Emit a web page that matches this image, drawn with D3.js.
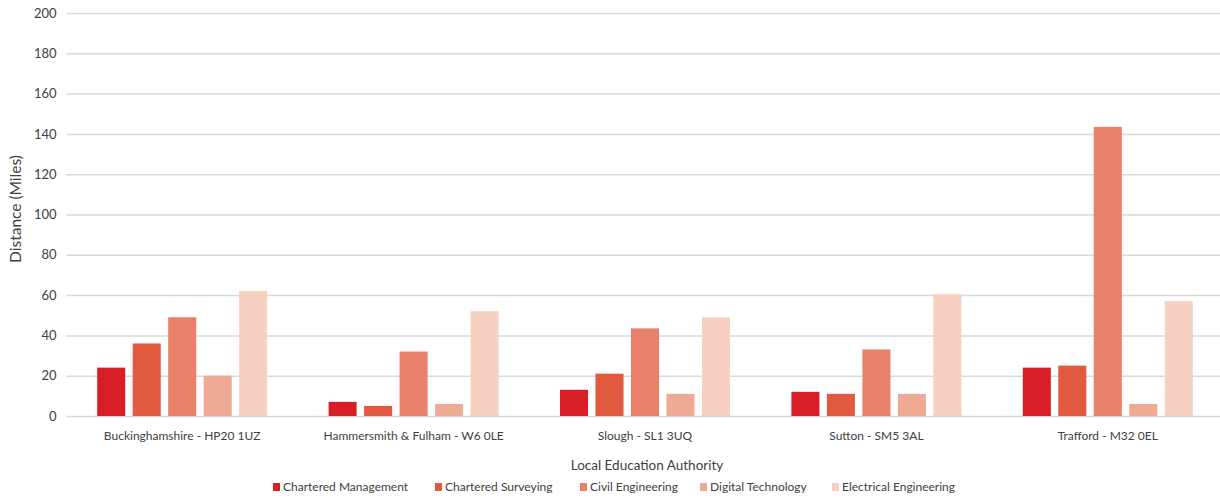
<!DOCTYPE html>
<html>
<head>
<meta charset="utf-8">
<script src="https://cdn.jsdelivr.net/npm/d3@7"></script>
<style>
    body { margin: 0; background: #fff; overflow: hidden; }
    text { font-family: Lato, "Open Sans", sans-serif; fill: #404040; }
</style>
</head>
<body>
<div id="chart"></div>
<script>
    var categories = ['Buckinghamshire - HP20 1UZ', 'Hammersmith & Fulham - W6 0LE', 'Slough - SL1 3UQ', 'Sutton - SM5 3AL', 'Trafford - M32 0EL'];
    var seriesNames = ['Chartered Management', 'Chartered Surveying', 'Civil Engineering', 'Digital Technology', 'Electrical Engineering'];
    var charteredManagement = [24, 7, 13, 12, 24];
    var charteredSurveying = [36, 5, 21, 11, 25];
    var civilEngineering = [49, 32, 43.5, 33, 143.5];
    var digitalTechnology = [20, 6, 11, 11, 6];
    var electricalEngineering = [62, 52, 49, 60.5, 57];
    var yTicks = [0, 20, 40, 60, 80, 100, 120, 140, 160, 180, 200];
    var colors = ['#d81f27', '#e15a40', '#e8806a', '#eeaa95', '#f6d0c0'];

    var seriesValues = [charteredManagement, charteredSurveying, civilEngineering, digitalTechnology, electricalEngineering];

    var width = 1220;
    var height = 498;
    var margin = {top: 13, left: 66.5, bottom: 82};
    var innerW = 1157; // category bands run slightly past the right edge
    var innerH = height - margin.top - margin.bottom;

    var svg = d3.select('#chart').append('svg')
        .attr('width', width)
        .attr('height', height)
        .append('g')
        .attr('transform', 'translate(' + margin.left + ',' + margin.top + ')');

    var x0 = d3.scaleBand().domain(categories).range([0, innerW]).padding(0);
    var groupPad = 30.7;
    var x1 = d3.scaleBand().domain(seriesNames)
        .range([groupPad, x0.bandwidth() - groupPad])
        .paddingInner(0.21);
    var y = d3.scaleLinear().domain([0, 200]).range([innerH, 0]);

    // gridlines
    svg.append('g')
        .call(d3.axisLeft(y).tickValues(yTicks).tickSize(-(width - margin.left)).tickFormat(''))
        .call(function (g) {
            g.select('.domain').remove();
            g.selectAll('line').attr('stroke', '#d9d9d9').attr('stroke-width', 1.5);
        });

    // y labels
    svg.append('g')
        .call(d3.axisLeft(y).tickValues(yTicks).tickSize(0).tickPadding(10))
        .call(function (g) {
            g.select('.domain').remove();
            g.selectAll('text').style('font-size', '13px').style('fill', '#404040');
        });

    // bars
    var groups = svg.selectAll('.group')
        .data(categories)
        .enter().append('g')
        .attr('class', 'group')
        .attr('transform', function (d) {
            return 'translate(' + x0(d) + ',0)';
        });

    groups.selectAll('rect')
        .data(function (d, i) {
            return seriesNames.map(function (s, j) {
                return {name: s, value: seriesValues[j][i], color: colors[j]};
            });
        })
        .enter().append('rect')
        .attr('x', function (d) { return x1(d.name); })
        .attr('width', x1.bandwidth())
        .attr('y', function (d) { return y(d.value); })
        .attr('height', function (d) { return innerH - y(d.value); })
        .attr('fill', function (d) { return d.color; });

    // x labels
    svg.append('g')
        .attr('transform', 'translate(0,' + innerH + ')')
        .call(d3.axisBottom(x0).tickSize(0).tickPadding(15))
        .call(function (g) {
            g.select('.domain').remove();
            g.selectAll('text').style('font-size', '12px').style('fill', '#404040');
        });

    // axis titles
    svg.append('text')
        .attr('transform', 'translate(' + (16 - margin.left) + ',' + (209 - margin.top) + ') rotate(-90)')
        .attr('text-anchor', 'middle')
        .attr('dy', '0.35em')
        .style('font-size', '15.5px')
        .text('Distance (Miles)');

    svg.append('text')
        .attr('x', 647 - margin.left)
        .attr('y', 465 - margin.top)
        .attr('text-anchor', 'middle')
        .attr('dy', '0.35em')
        .style('font-size', '13.5px')
        .text('Local Education Authority');

    // legend
    var legendX = [273, 435, 580, 700, 832];
    var legend = svg.append('g')
        .attr('transform', 'translate(' + (-margin.left) + ',' + (487 - margin.top) + ')');
    var item = legend.selectAll('.item')
        .data(seriesNames)
        .enter().append('g')
        .attr('class', 'item')
        .attr('transform', function (d, i) { return 'translate(' + legendX[i] + ',0)'; });
    item.append('rect')
        .attr('x', 0).attr('y', -4).attr('width', 7).attr('height', 8)
        .attr('fill', function (d, i) { return colors[i]; });
    item.append('text')
        .attr('x', 10)
        .attr('dy', '0.35em')
        .style('font-size', '12px')
        .text(function (d) { return d; });
</script>
</body>
</html>
